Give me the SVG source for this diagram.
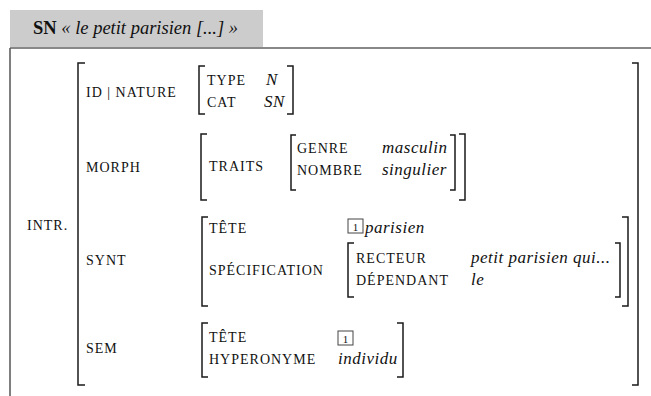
<svg xmlns="http://www.w3.org/2000/svg" width="651" height="396" viewBox="0 0 651 396" font-family="Liberation Serif, serif">
<style>
.br{fill:none;stroke:#1a1a1a;stroke-width:1.5}
.lab{font-size:14px;letter-spacing:1px;fill:#111}
.val{font-size:17px;font-style:italic;fill:#111;letter-spacing:0.5px}
.hd{font-size:18.5px;fill:#111}
.box{fill:#fff;stroke:#444;stroke-width:1}
.num{font-size:11px;fill:#111}
</style>
<rect width="651" height="396" fill="#fff"/>
<g id="header">
<rect x="10" y="10" width="253" height="37" fill="#cccccc"/>
<text class="hd" x="33" y="34"><tspan font-weight="bold">SN</tspan><tspan font-style="italic"> « le petit parisien [...] »</tspan></text>
</g>
<g id="frame">
<line x1="10" y1="48" x2="651" y2="48" stroke="#888" stroke-width="2"/>
<line x1="10" y1="48" x2="10" y2="396" stroke="#555" stroke-width="1.5"/>
</g>
<g id="intr">
<text class="lab" x="27" y="230">INTR.</text>
<path class="br" d="M85 63H78V385H85"/>
<path class="br" d="M632 63H638V385H632"/>
</g>
<g id="row-id-nature">
<text class="lab" x="86" y="97">ID | NATURE</text>
<path class="br" d="M205 66H199V114H205"/>
<text class="lab" x="207" y="85">TYPE</text>
<text class="val" x="266" y="85">N</text>
<text class="lab" x="207" y="107">CAT</text>
<text class="val" x="264" y="107">SN</text>
<path class="br" d="M287 66H293V114H287"/>
</g>
<g id="row-morph">
<text class="lab" x="86" y="172">MORPH</text>
<path class="br" d="M207 134H201V200H207"/>
<text class="lab" x="209" y="171">TRAITS</text>
<path class="br" d="M296 135H291V190H296"/>
<text class="lab" x="297" y="153">GENRE</text>
<text class="val" x="382" y="153">masculin</text>
<text class="lab" x="297" y="175">NOMBRE</text>
<text class="val" x="382" y="175">singulier</text>
<path class="br" d="M450 135H455V190H450"/>
<path class="br" d="M459 134H465V200H459"/>
</g>
<g id="row-synt">
<text class="lab" x="86" y="265">SYNT</text>
<path class="br" d="M208 217H202V306H208"/>
<text class="lab" x="209" y="233">TÊTE</text>
<rect class="box" x="348" y="219" width="15" height="14"/>
<text class="num" x="355.5" y="230.5" text-anchor="middle">1</text>
<text class="val" x="365" y="233">parisien</text>
<text class="lab" x="209" y="275">SPÉCIFICATION</text>
<path class="br" d="M354 243H348V297H354"/>
<text class="lab" x="356" y="263">RECTEUR</text>
<text class="val" x="471" y="263">petit parisien qui...</text>
<text class="lab" x="356" y="285">DÉPENDANT</text>
<text class="val" x="471" y="285">le</text>
<path class="br" d="M615 243H620V297H615"/>
<path class="br" d="M622 217H628V306H622"/>
</g>
<g id="row-sem">
<text class="lab" x="86" y="353">SEM</text>
<path class="br" d="M208 323H202V377H208"/>
<text class="lab" x="209" y="342">TÊTE</text>
<rect class="box" x="338" y="331" width="15" height="14"/>
<text class="num" x="345.5" y="342.5" text-anchor="middle">1</text>
<text class="lab" x="209" y="364">HYPERONYME</text>
<text class="val" x="338" y="364">individu</text>
<path class="br" d="M397 323H403V377H397"/>
</g>
</svg>
